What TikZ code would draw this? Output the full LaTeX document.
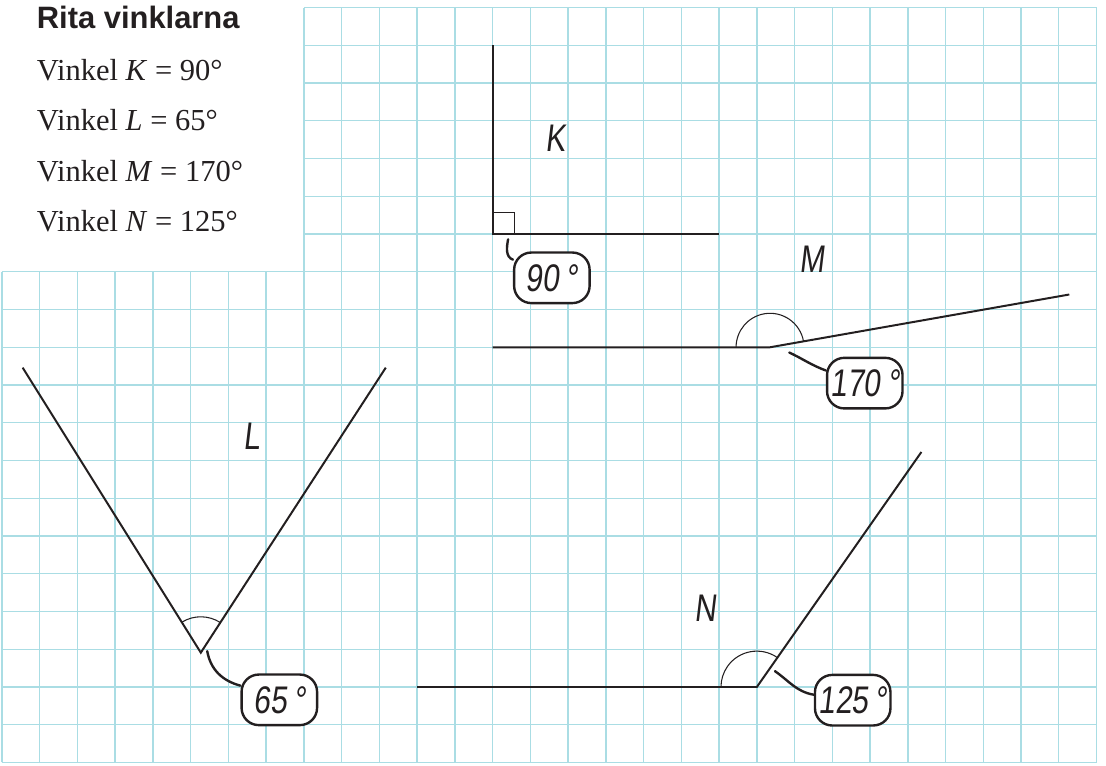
\documentclass[tikz,border=0pt]{standalone}
\usepackage{fontspec}
\setmainfont{Liberation Serif}
\newfontfamily\titlefont{Liberation Sans}
\IfFontExistsTF{FiraSans-Light.otf}
  {\newfontfamily\handfont{FiraSans-Light.otf}[FakeSlant=0.14, FakeStretch=0.82]}
  {\newfontfamily\handfont{Liberation Sans}[FakeSlant=0.12, FakeStretch=0.78]}
\usepackage{xcolor}
\usepackage{tikz}
\usetikzlibrary{positioning}
\definecolor{gridblue}{RGB}{170,221,228}
\definecolor{inkblack}{RGB}{35,31,32}

\begin{document}
\begin{tikzpicture}
    [gridline/.style={draw=gridblue, line width=1pt},
     arm/.style={draw=inkblack, line width=1.5pt},
     anglearc/.style={draw=inkblack, line width=0.8pt},
     tether/.style={draw=inkblack, line width=1.8pt, line cap=round},
     bubble/.style={draw=inkblack, line width=1.8pt, rounded corners=13pt, fill=white,
                    minimum width=2cm, minimum height=1.34cm, inner sep=0pt,
                    font=\handfont\fontsize{29}{30}\selectfont, text=inkblack},
     handlabel/.style={font=\handfont\fontsize{29}{30}\selectfont, text=inkblack, inner sep=0pt},
     listline/.style={font=\fontsize{23}{26}\selectfont, text=inkblack, inner sep=0pt}]
    \useasboundingbox (-0.05,-0.07) rectangle (29.25,20.2);

    % rutnät
    \draw[gridline] (0,0) grid (29,13);
    \draw[gridline] (8,13) grid (29,20);

    % uppgiften
    \node[anchor=base west, inner sep=0pt, text=inkblack,
          font=\titlefont\bfseries\fontsize{23.3}{26}\selectfont] (title) at (0.92,19.44) {Rita vinklarna};
    \node[listline, anchor=base west] (lineK) at (0.92,18.08) {Vinkel \textit{K} = 90°};
    \node[listline, below=1.34cm of lineK.base west, anchor=base west] (lineL) {Vinkel \textit{L} = 65°};
    \node[listline, below=1.34cm of lineL.base west, anchor=base west] (lineM) {Vinkel \textit{M} = 170°};
    \node[listline, below=1.34cm of lineM.base west, anchor=base west] (lineN) {Vinkel \textit{N} = 125°};

    % vinkel K
    \coordinate (kv) at (13,14);
    \draw[arm] (13,19) -- (kv) -- (19,14);
    \draw[anglearc] (kv) rectangle ++(0.58,0.57);
    \node[handlabel] (labK) at (14.66,16.54) {K};
    \node[bubble] (b90) at (14.57,12.84) {90\,°};
    \coordinate (ktail) at (13.41,13.86);
    \draw[tether] (ktail) to[out=-100, in=160] (b90.155);

    % vinkel L
    \coordinate (lv) at (5.27,2.91);
    \draw[arm] (0.55,10.46) -- (lv) -- (10.17,10.46);
    \draw[anglearc] ([shift={(57:0.95)}]lv) arc[start angle=57, end angle=122, radius=0.95];
    \node[handlabel] (labL) at (6.62,8.63) {L};
    \node[bubble] (b65) at (7.35,1.66) {65\,°};
    \coordinate (ltail) at (5.44,2.95);
    \draw[tether] (ltail) to[out=-80, in=165] (b65.160);

    % vinkel M
    \coordinate (mv) at (20.35,11);
    \draw[arm] (13,11) -- (mv) -- ++(10:8.05);
    \draw[anglearc] ([shift={(10:0.9)}]mv) arc[start angle=10, end angle=180, radius=0.9];
    \node[handlabel] (labM) at (21.46,13.34) {M};
    \node[bubble] (b170) at (22.86,10.05) {170\,°};
    \coordinate (mtail) at (20.86,10.86);
    \draw[tether] (mtail) to[out=-25, in=160] (b170.162);

    % vinkel N
    \coordinate (nv) at (20,2);
    \draw[arm] (11,2) -- (nv) -- ++(55:7.6);
    \draw[anglearc] ([shift={(55:0.95)}]nv) arc[start angle=55, end angle=180, radius=0.95];
    \node[handlabel] (labN) at (18.64,4.08) {N};
    \node[bubble] (b125) at (22.54,1.65) {125\,°};
    \coordinate (ntail) at (20.48,2.42);
    \draw[tether] (ntail) to[out=-35, in=170] (b125.172);
\end{tikzpicture}
\end{document}
